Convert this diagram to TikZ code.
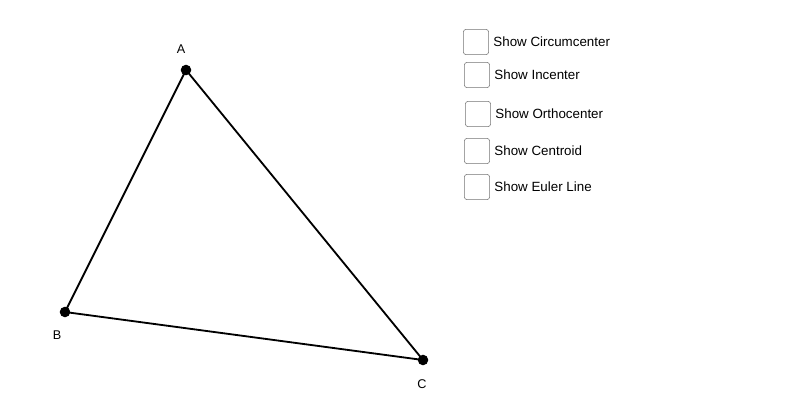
\documentclass[tikz,border=0pt]{standalone}
\usepackage{fontspec}
\setmainfont{Liberation Sans}
\usetikzlibrary{positioning}
\tikzstyle{vertex} = [circle,fill=black,inner sep=0pt,minimum size=7.5pt]
\tikzstyle{vlabel} = [font=\fontsize{9}{10}\selectfont]
\tikzstyle{checkbox} = [draw=black!55,rounded corners=2pt,minimum size=18pt,inner sep=0pt]
\tikzstyle{boxlabel} = [font=\fontsize{9.5}{11}\selectfont,anchor=west,inner sep=0pt]

\begin{document}
\begin{tikzpicture}[x=0.025cm,y=-0.025cm]
	\useasboundingbox (0,0) rectangle (800,400);
	\node (A) [vertex] at (186,70) {};
	\node (B) [vertex] at (65,312) {};
	\node (C) [vertex] at (423,360) {};
	\node (la) [vlabel] at (181,49) {A};
	\node (lb) [vlabel] at (57,335) {B};
	\node (lc) [vlabel] at (422,384) {C};
	\draw [line width=1.3pt] (A.center) -- (B.center) -- (C.center) -- cycle;
	\node (cb1) [checkbox] at (476,42) {};
	\node (cb2) [checkbox] at (477,75) {};
	\node (cb3) [checkbox] at (478,114) {};
	\node (cb4) [checkbox] at (477,151) {};
	\node (cb5) [checkbox] at (477,187) {};
	\node (t1) [boxlabel,right=3pt of cb1] {Show Circumcenter};
	\node (t2) [boxlabel,right=3pt of cb2] {Show Incenter};
	\node (t3) [boxlabel,right=3pt of cb3] {Show Orthocenter};
	\node (t4) [boxlabel,right=3pt of cb4] {Show Centroid};
	\node (t5) [boxlabel,right=3pt of cb5] {Show Euler Line};
\end{tikzpicture}
\end{document}
